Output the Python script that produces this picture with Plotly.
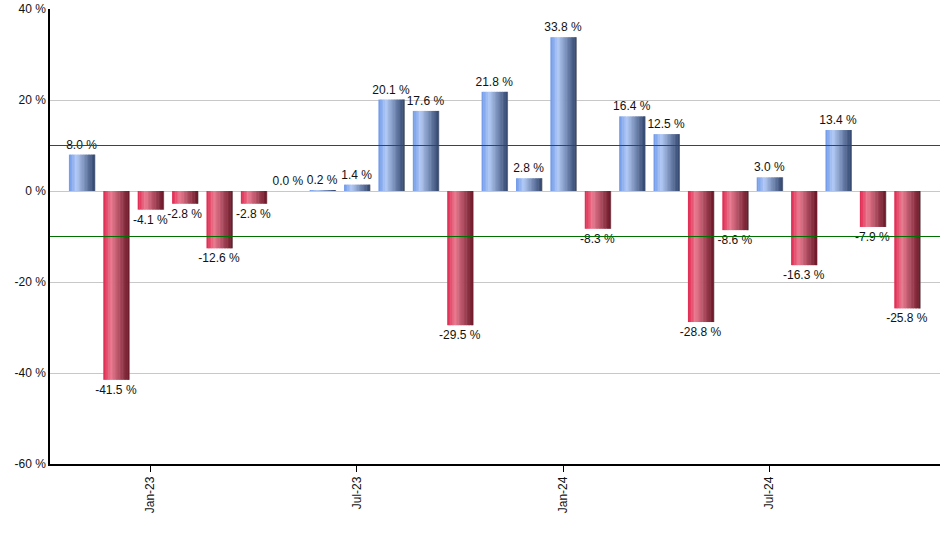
import plotly.graph_objects as go

months = ["Nov-22", "Dec-22", "Jan-23", "Feb-23", "Mar-23", "Apr-23", "May-23", "Jun-23",
          "Jul-23", "Aug-23", "Sep-23", "Oct-23", "Nov-23", "Dec-23", "Jan-24", "Feb-24",
          "Mar-24", "Apr-24", "May-24", "Jun-24", "Jul-24", "Aug-24", "Sep-24", "Oct-24", "Nov-24"]
returns = [8.0, -41.5, -4.1, -2.8, -12.6, -2.8, 0.0, 0.2, 1.4, 20.1, 17.6, -29.5, 21.8, 2.8,
           33.8, -8.3, 16.4, 12.5, -28.8, -8.6, 3.0, -16.3, 13.4, -7.9, -25.8]
tick_labels = ["Jan-23", "Jul-23", "Jan-24", "Jul-24"]
y_ticks = [-60, -40, -20, 0, 20, 40]
upper_line = 10
lower_line = -10

# horizontal gradient stops (left -> right)
blue_stops = [(0.0, (110, 152, 232)), (0.3, (178, 202, 246)), (1.0, (50, 70, 110))]
red_stops = [(0.0, (224, 38, 78)), (0.3, (234, 122, 144)), (1.0, (106, 24, 40))]


def interp(stops, t):
    for (t0, c0), (t1, c1) in zip(stops[:-1], stops[1:]):
        if t0 <= t <= t1:
            f = (t - t0) / (t1 - t0) if t1 > t0 else 0
            return "rgb(%d,%d,%d)" % tuple(round(a + (b - a) * f) for a, b in zip(c0, c1))
    return "rgb(%d,%d,%d)" % stops[-1][1]


fig = go.Figure()
bar_w = 0.74
n_slices = 16
step = bar_w / n_slices
# shadow on right edge
fig.add_trace(go.Bar(x=months, y=returns, width=0.05, offset=bar_w / 2 - 0.02,
                     marker=dict(color="rgba(120,120,120,0.8)", line=dict(width=0)),
                     hoverinfo="skip", showlegend=False))
for i in range(n_slices):
    t = (i + 0.5) / n_slices
    colors = [interp(blue_stops if v >= 0 else red_stops, t) for v in returns]
    fig.add_trace(go.Bar(x=months, y=returns, width=step * 1.3, offset=-bar_w / 2 + i * step,
                         marker=dict(color=colors, line=dict(width=0)),
                         hoverinfo="skip", showlegend=False))

fig.add_trace(go.Bar(x=months, y=returns, width=bar_w,
                     marker=dict(color="rgba(0,0,0,0)", line=dict(width=0)),
                     text=["%.1f %%" % v for v in returns], textposition="outside",
                     constraintext="none",
                     textfont=dict(size=12, color="#111111", family="Liberation Sans, Arial"),
                     cliponaxis=False, showlegend=False,
                     hovertemplate="%{x}: %{y:.1f} %<extra></extra>"))

for yv in (upper_line, lower_line):
    fig.add_hline(y=yv, line=dict(color="#007000", width=1))

fig.update_layout(
    width=940, height=550,
    margin=dict(l=50, r=0, t=9, b=86),
    barmode="overlay",
    plot_bgcolor="white", paper_bgcolor="white",
    font=dict(family="Liberation Sans, Arial", size=12, color="#111111"),
)
fig.update_xaxes(type="category", range=[-0.92, 24.96], tickmode="array", tickvals=tick_labels,
                 ticktext=tick_labels, tickangle=-90, ticks="outside", ticklen=6,
                 tickcolor="black", showline=True, linecolor="black", linewidth=1.5,
                 showgrid=False, zeroline=False, automargin=False)
fig.update_yaxes(range=[-60, 40], tickvals=y_ticks, ticktext=["%d %%" % v for v in y_ticks],
                 showline=True, linecolor="black", linewidth=1.5, showgrid=True,
                 gridcolor="#c8c8c8", gridwidth=1, zeroline=False, ticks="", ticklen=0,
                 automargin=False)

fig.write_html("out.html", config={"displayModeBar": False},
               post_script="document.body.style.margin='0';")
